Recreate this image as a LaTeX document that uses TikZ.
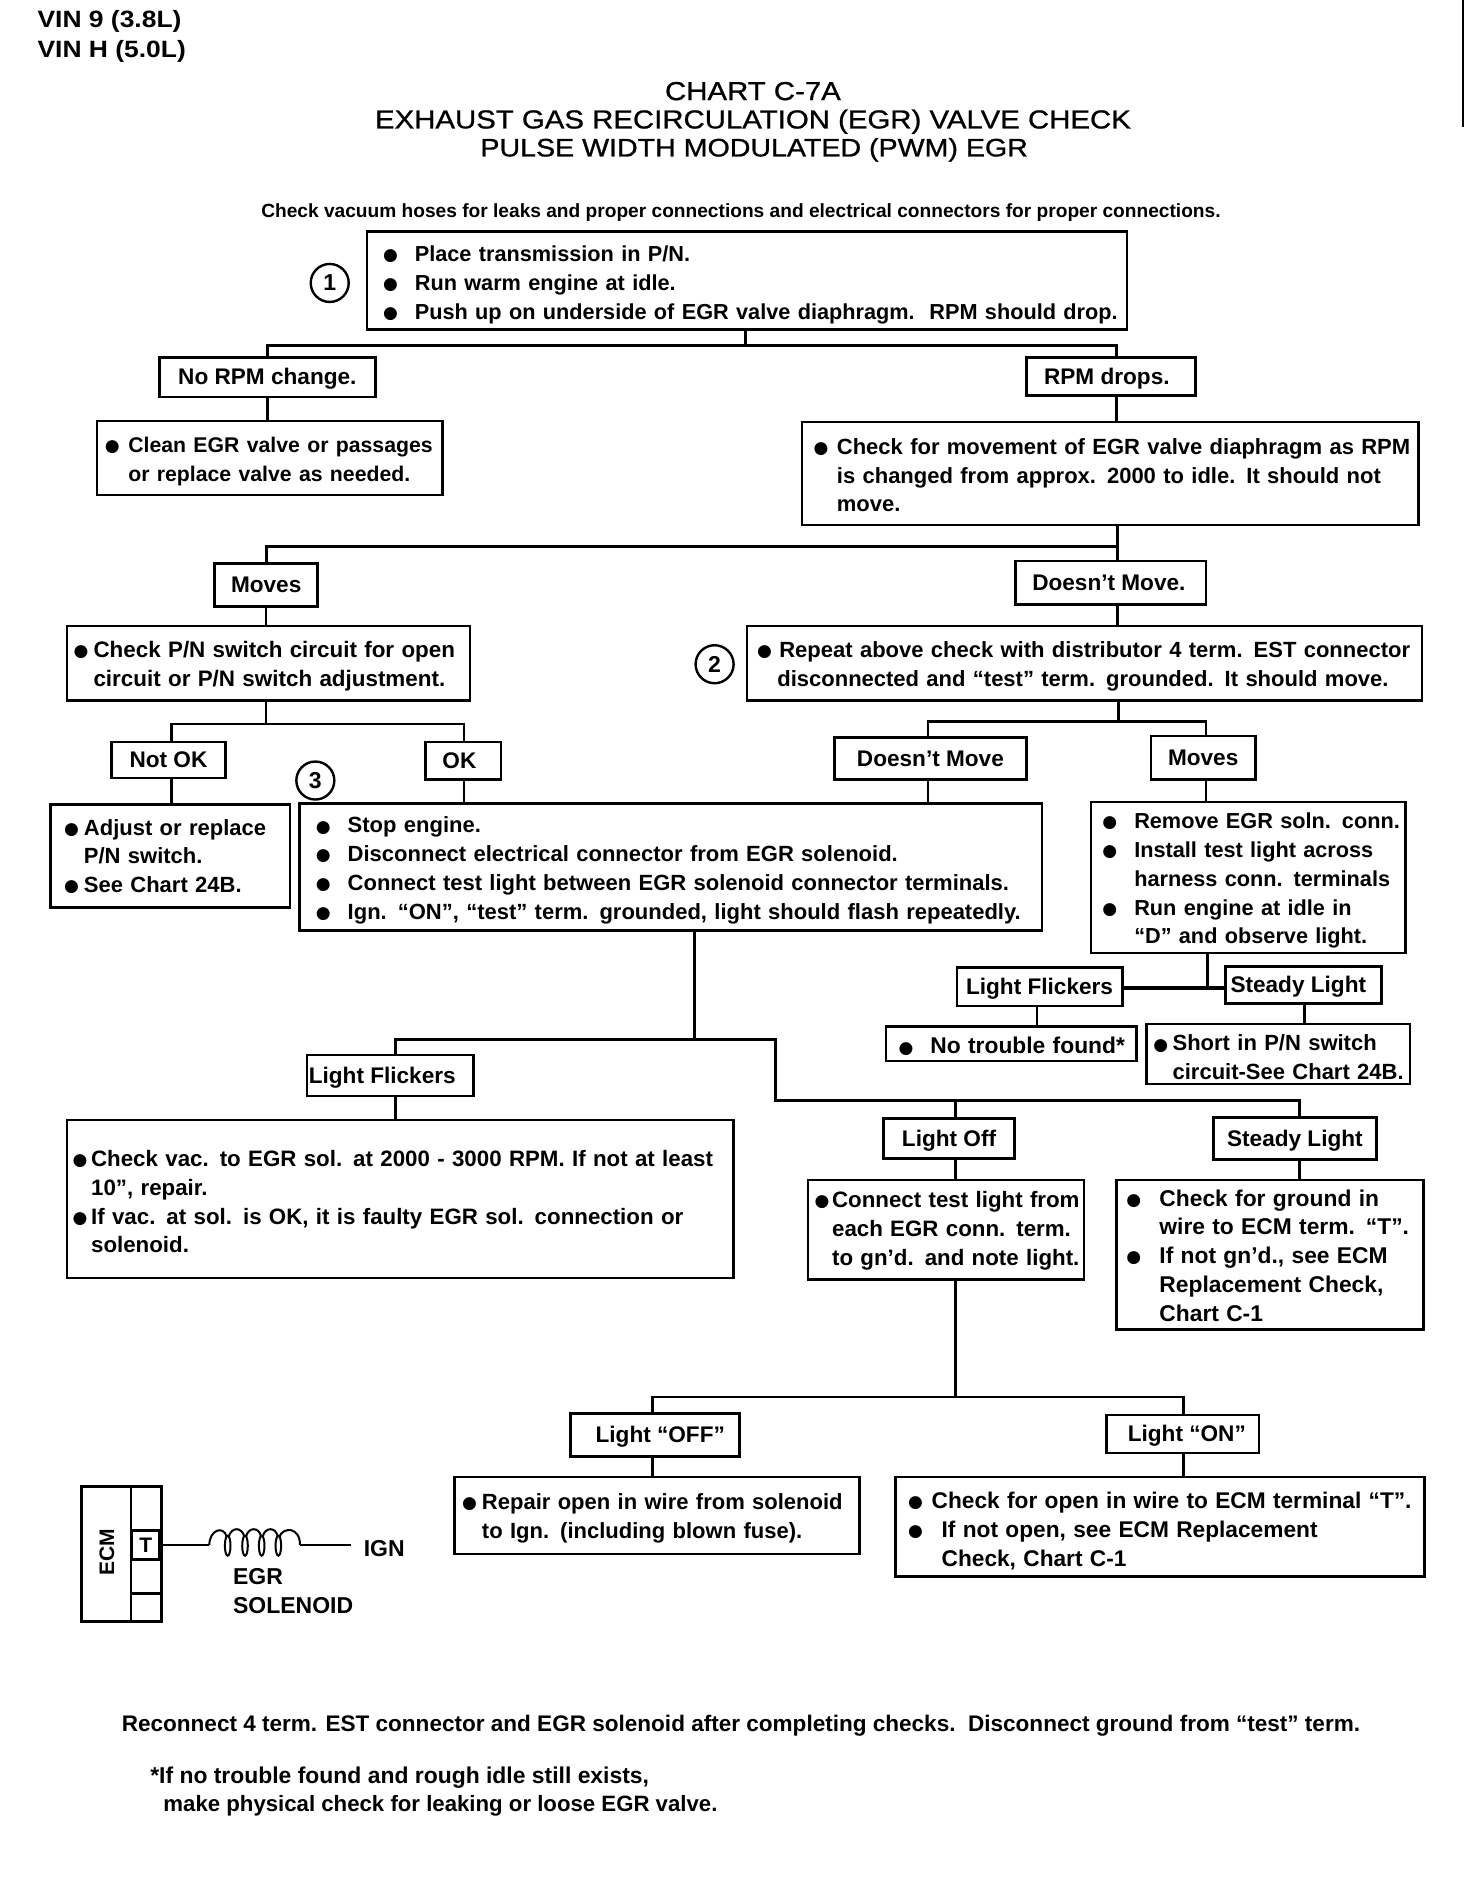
\documentclass[tikz,border=0pt]{standalone}
\usepackage{fontspec}
\setmainfont{Liberation Sans}[BoldFont={Liberation Sans Bold}]
\newfontfamily\bulfont{DejaVu Sans}
\newfontfamily\titf{Liberation Sans}[FakeStretch=1.13,FakeBold=0.9]
\newfontfamily\vinf{Liberation Sans Bold}[FakeStretch=1.12]
\newlength\ti
\newcommand\bodyf{\fontsize{11}{14.4}\selectfont\bfseries}
\newcommand\sz[1]{\fontsize{#1}{14.4}\selectfont}
\newcommand\bl[2][0]{\mbox{\makebox[0pt][l]{\raisebox{0.4pt}{\bulfont\fontsize{8.5}{8.5}\selectfont ●}}\hspace*{\ti}\hspace*{#1pt}#2}}
\newcommand\il[2][0]{\mbox{\hspace*{\ti}\hspace*{#1pt}#2}}
% \bx[text shift]{name}{x1}{y1}{x2}{y2}{bullet left}{text left}{lines}
\newcommand\bx[9][2]{%
  \pgfmathsetlength\ti{(#8-#7)*0.59949pt}%
  \node[tbox,minimum width={(#5-#3)*0.59949pt},minimum height={(#6-#4)*0.59949pt},
        inner xsep={(#7-#3)*0.59949pt},text width={(#5-#3-2*(#7-#3))*0.59949pt}]
        (#2) at ({(#3+#5)/2},{(#4+#6)/2}) {\rule{0pt}{\dimexpr8.5pt+#1\dimexpr1.2pt\relax\relax}#9};}
% \lb[x shift pt]{name}{x1}{y1}{x2}{y2}{text}
\newcommand\lb[7][0]{%
  \node[lbox,minimum width={(#5-#3)*0.59949pt},minimum height={(#6-#4)*0.59949pt}]
        (#2) at ({(#3+#5)/2},{(#4+#6)/2}) {\raisebox{-0.4pt}[7pt][0pt]{\hspace*{#1pt}#7}};}
\tikzset{
  tbox/.style={draw,line width=1.3pt,font=\bodyf,align=left,inner ysep=0pt,outer sep=0pt},
  lbox/.style={draw,line width=1.3pt,font=\fontsize{11.3}{14}\selectfont\bfseries,align=center,inner sep=0pt,outer sep=0pt},
  wire/.style={line width=1.3pt},
  bus/.style={line width=1.5pt},
  num/.style={draw,circle,line width=1.2pt,font=\fontsize{11.5}{11}\selectfont\bfseries,minimum size=19pt,inner sep=0pt},
  titl/.style={font=\fontsize{13}{13}\selectfont\titf,inner sep=0pt},
  note/.style={font=\fontsize{11.3}{12}\selectfont\bfseries,inner sep=0pt},
  vin/.style={font=\fontsize{11.8}{12}\selectfont\vinf,inner sep=0pt,anchor=west},
  coil/.style={line width=1pt},
}
\begin{document}
\begin{tikzpicture}[x=0.59949pt,y=-0.59949pt]
\useasboundingbox (0,0) rectangle (1227.7,1568);
\fill[white] (0,0) rectangle (1227.7,1568);
\node[vin] (vin9) at (31,18) {VIN 9 (3.8L)};
\node[vin] (vinh) at (31,43) {VIN H (5.0L)};
\node[titl] (t1) at (628,76) {CHART C-7A};
\node[titl] (t2) at (628,101.5) {EXHAUST GAS RECIRCULATION (EGR) VALVE CHECK};
\node[titl,font=\fontsize{12.65}{13}\selectfont\titf] (t3) at (629,125) {PULSE WIDTH MODULATED (PWM) EGR};
\node[note,font=\fontsize{9.57}{11}\selectfont\bfseries] (chk) at (618,177) {Check vacuum hoses for leaks and proper connections and electrical connectors for proper connections.};
\coordinate (ra) at (1220,0); \coordinate (rb) at (1220,106);
\draw[line width=1.2pt] (ra) -- (rb);

\bx[3]{b1}{306}{193}{940}{275}{319.5}{346}{\sz{10.85}\bl{Place transmission in P/N.}\\\bl{Run warm engine at idle.}\\\bl{Push up on underside of EGR valve diaphragm.\ \ RPM should drop.}}
\node[num] (c1) at (275,236) {1};
\lb{norpm}{133}{298}{313}{331}{No RPM change.}
\lb[-4]{rpm}{856}{298}{997}{330}{RPM drops.}
\bx{clean}{81}{351}{369}{413}{87.5}{107}{\sz{10.62}\bl{Clean EGR valve or passages}\\\il{or replace valve as needed.}}
\bx[1]{chkm}{669}{352}{1183}{438}{678.5}{698}{\bl{Check for movement of EGR valve diaphragm as RPM}\\\il{is changed from approx. 2000 to idle. It should not}\\\il{move.}}
\lb{mv}{179}{470}{265}{506}{Moves}
\lb[-2]{dm}{847}{468}{1006}{504}{Doesn't Move.}
\bx{pn}{56}{522}{392}{584}{61.5}{78}{\sz{11.2}\bl{Check P/N switch circuit for open}\\\il{circuit or P/N switch adjustment.}}
\bx{rep}{623}{522}{1186}{584}{631.5}{650}{\bl{Repeat above check with distributor 4 term. EST connector}\\\il[-1]{disconnected and “test” term. grounded. It should move.}}
\node[num] (c2) at (596,554) {2};
\lb{nok}{93}{619}{188}{649}{Not OK}
\lb[-4]{ok}{355}{619}{418}{650}{OK}
\lb{dm2}{696}{615}{856}{650}{Doesn't Move}
\lb{mv2}{960}{614}{1047}{650}{Moves}
\node[num] (c3) at (263,651) {3};
\bx[0]{adj}{42}{671}{242}{757}{53.5}{70}{\bl{Adjust or replace}\\\il{P/N switch.}\\\bl{See Chart 24B.}}
\bx[2.5]{stop}{250}{670}{869}{776}{263.5}{290}{\bl{Stop engine.}\\\bl{Disconnect electrical connector from EGR solenoid.}\\\bl{Connect test light between EGR solenoid connector terminals.}\\\bl{Ign. “ON”, “test” term. grounded, light should flash repeatedly.}}
\bx{rem}{910}{669}{1172}{795}{919.5}{946}{\sz{10.85}\bl{Remove EGR soln. conn.}\\\bl{Install test light across}\\\il{harness conn. terminals}\\\bl{Run engine at idle in}\\\il{“D” and observe light.}}
\lb{lf}{798}{807}{936}{839}{Light Flickers}
\lb[-5]{sl}{1022}{806}{1152}{837}{Steady Light}
\bx{ntf}{739}{856}{948}{885}{749.5}{776}{\sz{11.4}\bl{No trouble found*}}
\bx[2.5]{sht}{956}{854}{1176}{904}{962}{978}{\bl{Short in P/N switch}\\\il{circuit-See Chart 24B.}}
\lb[-8]{lf2}{256}{880}{395}{914}{Light Flickers}
\bx{vac}{56}{934}{612}{1066}{60.5}{76}{\sz{11.15}\bl{Check vac. to EGR sol. at 2000 - 3000 RPM. If not at least}\\\il{10", repair.}\\\bl{If vac. at sol. is OK, it is faulty EGR sol. connection or}\\\il{solenoid.}}
\lb{loff}{737}{933}{846}{966}{Light Off}
\lb{sl2}{1012}{932}{1148}{967}{Steady Light}
\bx[0.5]{cnt}{674}{984}{904}{1067}{679.5}{694}{\sz{11.15}\bl{Connect test light from}\\\il{each EGR conn. term.}\\\il{to gn'd. and note light.}}
\bx[0.5]{gnd}{931}{984}{1187}{1109}{939.5}{967}{\sz{11.4}\bl{Check for ground in}\\\il{wire to ECM term. “T”.}\\\bl{If not gn'd., see ECM}\\\il{Replacement Check,}\\\il{Chart C-1}}
\lb[5]{loff2}{476}{1179}{617}{1215}{Light “OFF”}
\lb[4]{lon}{923}{1180}{1050}{1212}{Light “ON”}
\bx{rpr}{379}{1232}{717}{1296}{385.5}{402}{\bl{Repair open in wire from solenoid}\\\il{to Ign. (including blown fuse).}}
\bx[3]{opn}{747}{1232}{1188}{1315}{757.5}{777}{\sz{11.35}\bl{Check for open in wire to ECM terminal “T”.}\\\bl[5]{If not open, see ECM Replacement}\\\il[5]{Check, Chart C-1}}

% connectors
\coordinate (j1) at (622,288); \coordinate (j1l) at (223,288); \coordinate (j1r) at (931,288);
\draw[wire] (b1.south -| j1) -- (j1);
\draw[bus] (norpm.north -| j1l) |- (j1r) -- (rpm.north -| j1r);
\draw[wire] (norpm.south -| j1l) -- (clean.north -| j1l);
\draw[wire] (rpm.south -| j1r) -- (chkm.north -| j1r);
\coordinate (j2) at (932,456); \coordinate (j2l) at (222,456);
\draw[bus] (chkm.south -| j2) -- (dm.north -| j2);
\draw[bus] (j2) -- (j2l) -- (mv.north -| j2l);
\draw[wire] (mv.south -| j2l) -- (pn.north -| j2l);
\draw[wire] (dm.south -| j2) -- (rep.north -| j2);
\coordinate (j3) at (222,604); \coordinate (j3l) at (143,604); \coordinate (j3r) at (387,604);
\draw[wire] (pn.south -| j3) -- (j3);
\draw[wire] (nok.north -| j3l) |- (j3r) -- (ok.north -| j3r);
\draw[wire] (nok.south -| j3l) -- (adj.north -| j3l);
\draw[wire] (ok.south -| j3r) -- (stop.north -| j3r);
\coordinate (j4) at (933,602); \coordinate (j4l) at (774,602); \coordinate (j4r) at (1006,602);
\draw[wire] (rep.south -| j4) -- (j4);
\draw[wire] (dm2.north -| j4l) |- (j4r) -- (mv2.north -| j4r);
\draw[wire] (dm2.south -| j4l) -- (stop.north -| j4l);
\draw[wire] (mv2.south -| j4r) -- (rem.north -| j4r);
\coordinate (j5) at (1007,824);
\draw[bus] (rem.south -| j5) -- (j5);
\draw[bus,line width=1.7pt] (lf.east |- j5) -- (sl.west |- j5);
\coordinate (j6a) at (865,845); \coordinate (j6) at (1088,845);
\draw[wire] (lf.south -| j6a) -- (ntf.north -| j6a);
\draw[wire] (sl.south -| j6) -- (sht.north -| j6);
\coordinate (j7) at (579,867); \coordinate (j7l) at (330,867); \coordinate (j7r) at (647,867); \coordinate (j8) at (647,918); \coordinate (j8r) at (1084,918); \coordinate (j8m) at (797,918);
\draw[wire] (stop.south -| j7) -- (j7);
\draw[wire] (lf2.north -| j7l) |- (j7r) -- (j8) -- (j8r) -- (sl2.north -| j8r);
\draw[wire] (j8m) -- (loff.north -| j8m);
\draw[wire] (lf2.south -| j7l) -- (vac.north -| j7l);
\draw[wire] (loff.south -| j8m) -- (cnt.north -| j8m);
\draw[wire] (sl2.south -| j8r) -- (gnd.north -| j8r);
\coordinate (j9) at (797,1165); \coordinate (j9l) at (544,1165); \coordinate (j9r) at (987,1165);
\draw[wire] (cnt.south -| j9) -- (j9);
\draw[wire] (loff2.north -| j9l) |- (j9r) -- (lon.north -| j9r);
\draw[wire] (loff2.south -| j9l) -- (rpr.north -| j9l);
\draw[wire] (lon.south -| j9r) -- (opn.north -| j9r);

% ECM schematic (zoom pixel coordinates: 1/3 reference pixel)
\begin{scope}[shift={(0pt,-690pt)},x=0.16667pt,y=-0.16667pt]
\node[draw,line width=1.6pt,minimum width=40.2pt,minimum height=67.5pt,inner sep=0pt,outer sep=0pt] (ecm) at (365,523) {};
\node[font=\fontsize{10.5}{11}\selectfont\bfseries,rotate=90,inner sep=0pt] (ecmt) at (321,516) {ECM};
\coordinate (d1) at (393,320); \coordinate (d2) at (393,725);
\draw[line width=1.2pt] (d1) -- (d2);
\node[draw,line width=1.2pt,minimum width=14pt,minimum height=14.5pt,inner sep=0pt,outer sep=0pt,font=\fontsize{10.5}{11}\selectfont\bfseries] (tc) at (437,495) {T};
\coordinate (c4a) at (393,640); \coordinate (c4b) at (480,640);
\draw[line width=1.2pt] (c4a) -- (c4b);
\coordinate (cs) at (628,495); \coordinate (ce) at (900,495); \coordinate (ign) at (1052,495);
\draw[coil] (tc.east) -- (cs);
\draw[coil] (cs) .. controls (628,450) and (670,435) .. (680,470);
\draw[coil] (683,497) ellipse [x radius=1.4pt,y radius=5pt];
\draw[coil] (686,470) .. controls (695,440) and (725,440) .. (733,470);
\draw[coil] (735,497) ellipse [x radius=1.4pt,y radius=5pt];
\draw[coil] (738,470) .. controls (745,440) and (778,440) .. (783,470);
\draw[coil] (785,497) ellipse [x radius=1.4pt,y radius=5pt];
\draw[coil] (788,470) .. controls (795,440) and (828,440) .. (833,470);
\draw[coil] (835,497) ellipse [x radius=1.4pt,y radius=5pt];
\draw[coil] (838,470) .. controls (850,440) and (900,440) .. (ce);
\draw[coil] (ce) -- (ign);
\node[font=\fontsize{11.5}{11}\selectfont\bfseries,anchor=west,inner sep=0pt] (ignt) at (1090,505) {IGN};
\node[font=\fontsize{11.5}{11}\selectfont\bfseries,anchor=west,inner sep=0pt] (egr) at (698,590) {EGR};
\node[font=\fontsize{11.5}{11}\selectfont\bfseries,anchor=west,inner sep=0pt] (sol) at (698,677) {SOLENOID};
\end{scope}

\node[note,font=\fontsize{11.27}{12}\selectfont\bfseries] (rc) at (618,1439) {Reconnect 4 term. EST connector and EGR solenoid after completing checks.\ \ Disconnect ground from “test” term.};
\node[note,anchor=west,font=\fontsize{11.45}{12}\selectfont\bfseries] (f1) at (125,1482.5) {*If no trouble found and rough idle still exists,};
\node[note,anchor=west,font=\fontsize{11.1}{12}\selectfont\bfseries] (f2) at (136,1506.5) {make physical check for leaking or loose EGR valve.};
\end{tikzpicture}
\end{document}
